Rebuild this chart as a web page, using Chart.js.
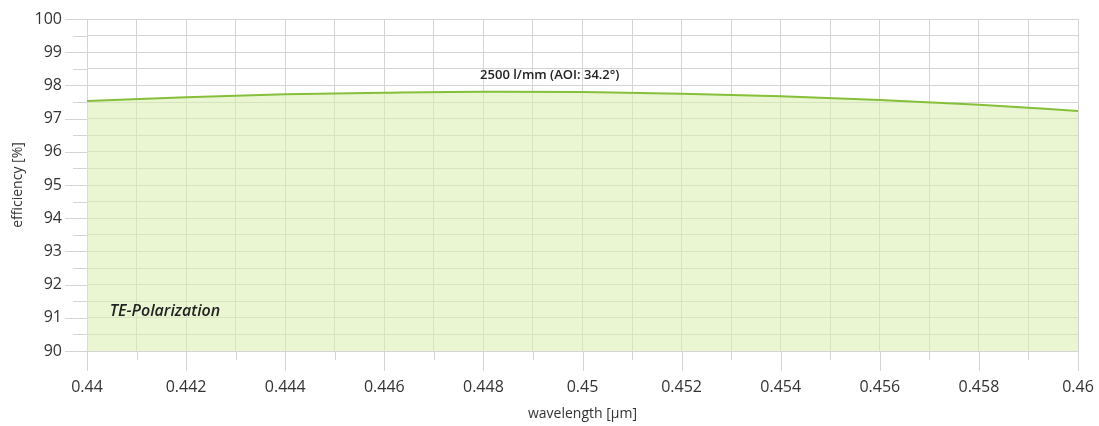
<!DOCTYPE html>
<html>
<head>
<meta charset="utf-8">
<script src="https://cdn.jsdelivr.net/npm/chart.js"></script>
<style>
  html, body { margin: 0; padding: 0; background: #fff; }
  #wrap { width: 1099px; height: 426px; }
</style>
</head>
<body>
<div id="wrap"><canvas id="chart"></canvas></div>
<script>
  const wavelengths = [0.440, 0.442, 0.444, 0.446, 0.448, 0.450, 0.452, 0.454, 0.456, 0.458, 0.460];
  const efficiency = [97.53, 97.64, 97.73, 97.78, 97.81, 97.80, 97.75, 97.67, 97.56, 97.42, 97.23];
  const xTickLabels = ['0.44', '0.442', '0.444', '0.446', '0.448', '0.45', '0.452', '0.454', '0.456', '0.458', '0.46'];
  const yTickLabels = ['90', '91', '92', '93', '94', '95', '96', '97', '98', '99', '100'];
  const seriesLabel = '2500 l/mm (AOI: 34.2°)';
  const polarization = 'TE-Polarization';

  const gridColor = '#d4d4d4';
  const font = "'Open Sans', 'DejaVu Sans', sans-serif";

  // tick marks of two lengths outside the plot area, plus the two notes
  const tickMarks = {
    id: 'tickMarks',
    afterDraw(chart) {
      const { ctx, chartArea, scales } = chart;
      ctx.save();
      ctx.strokeStyle = gridColor;
      ctx.lineWidth = 1;
      scales.x.ticks.forEach((t, i) => {
        const px = Math.round(scales.x.getPixelForValue(t.value)) + 0.5;
        const major = i % 2 === 0;
        ctx.beginPath();
        ctx.moveTo(px, chartArea.bottom);
        ctx.lineTo(px, chartArea.bottom + (major ? 20 : 9));
        ctx.stroke();
      });
      scales.y.ticks.forEach((t, i) => {
        const py = Math.round(scales.y.getPixelForValue(t.value)) + 0.5;
        const major = i % 2 === 0;
        ctx.beginPath();
        ctx.moveTo(chartArea.left, py);
        ctx.lineTo(chartArea.left - (major ? 22 : 14), py);
        ctx.stroke();
      });

      ctx.fillStyle = '#222';
      ctx.font = "600 13px " + font;
      ctx.textAlign = 'center';
      ctx.textBaseline = 'middle';
      ctx.fillText(seriesLabel, scales.x.getPixelForValue(0.44934), scales.y.getPixelForValue(98.31));

      ctx.font = "italic 600 16px " + font;
      ctx.textAlign = 'left';
      ctx.fillText(polarization, scales.x.getPixelForValue(0.44046), scales.y.getPixelForValue(91.2));
      ctx.restore();
    }
  };

  new Chart(document.getElementById('chart'), {
    type: 'line',
    data: {
      datasets: [{
        label: seriesLabel,
        data: wavelengths.map((w, i) => ({ x: w, y: efficiency[i] })),
        borderColor: '#86bf3a',
        borderWidth: 2,
        backgroundColor: 'rgba(216, 238, 172, 0.55)',
        fill: 'start',
        pointRadius: 0,
        cubicInterpolationMode: 'monotone'
      }]
    },
    options: {
      responsive: true,
      maintainAspectRatio: false,
      animation: false,
      layout: { padding: { top: 19, right: 21, left: 10, bottom: 0 } },
      plugins: {
        legend: { display: false },
        tooltip: { enabled: false }
      },
      scales: {
        x: {
          type: 'linear',
          min: 0.44,
          max: 0.46,
          afterBuildTicks(scale) {
            const ticks = [];
            for (let i = 0; i <= 20; i++) ticks.push({ value: 0.44 + i * 0.001 });
            scale.ticks = ticks;
          },
          afterFit(scale) {
            scale.height = 75;
            scale.paddingLeft = 0;
            scale.paddingRight = 0;
          },
          grid: { color: gridColor, drawTicks: false },
          border: { display: false },
          ticks: {
            padding: 27,
            autoSkip: false,
            maxRotation: 0,
            color: '#333',
            font: { family: font, size: 16 },
            callback: (v, i) => (i % 2 === 0 ? xTickLabels[i / 2] : '')
          },
          title: {
            display: true,
            text: 'wavelength [µm]',
            color: '#333',
            font: { family: font, size: 14 },
            padding: { top: 0, bottom: 4 }
          }
        },
        y: {
          min: 90,
          max: 100,
          afterBuildTicks(scale) {
            const ticks = [];
            for (let i = 0; i <= 20; i++) ticks.push({ value: 90 + i * 0.5 });
            scale.ticks = ticks;
          },
          afterFit(scale) {
            scale.width = 77;
            scale.paddingTop = 0;
            scale.paddingBottom = 0;
          },
          grid: { color: gridColor, drawTicks: false },
          border: { display: false },
          ticks: {
            padding: 25,
            autoSkip: false,
            color: '#333',
            font: { family: font, size: 16 },
            callback: (v, i) => (i % 2 === 0 ? yTickLabels[i / 2] : '')
          },
          title: {
            display: true,
            text: 'efficiency [%]',
            color: '#333',
            font: { family: font, size: 14 },
            padding: { top: 0, bottom: 0 }
          }
        }
      }
    },
    plugins: [tickMarks]
  });
</script>
</body>
</html>
